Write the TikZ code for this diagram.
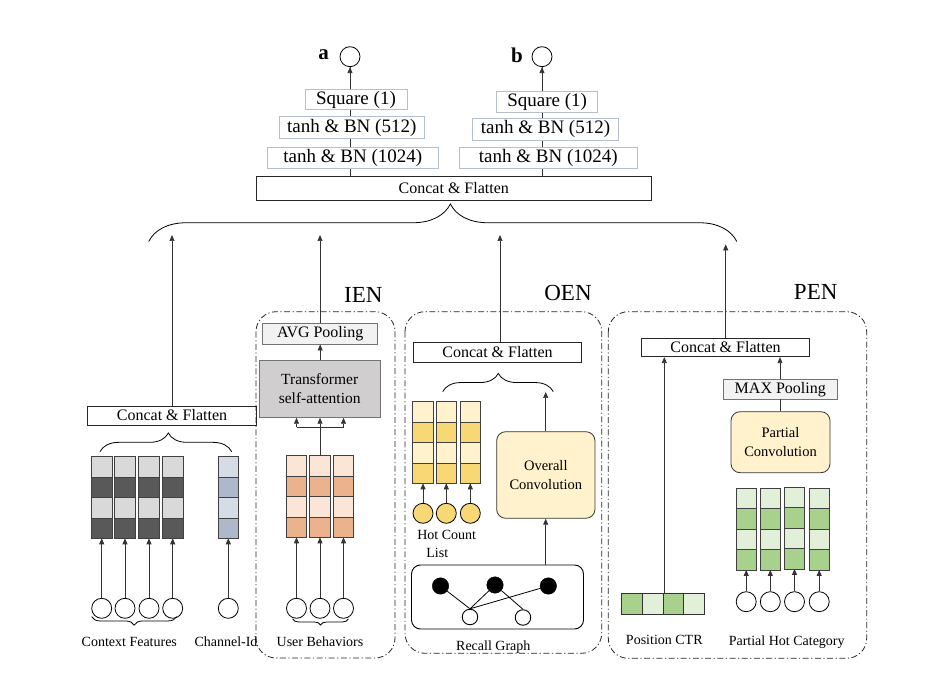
\documentclass[tikz,border=0pt]{standalone}
\usepackage{fontspec}
\setmainfont{Liberation Serif}
\usetikzlibrary{arrows.meta,decorations.pathreplacing,calc}
\definecolor{topbd}{HTML}{B4BFD0}
\definecolor{gl}{HTML}{D9D9D9}
\definecolor{gd}{HTML}{595959}
\definecolor{bl}{HTML}{D6DCE5}
\definecolor{bd}{HTML}{ADB9CA}
\definecolor{ol}{HTML}{FBE5D6}
\definecolor{od}{HTML}{EBB38D}
\definecolor{yl}{HTML}{FFF2CC}
\definecolor{yd}{HTML}{F8D775}
\definecolor{grl}{HTML}{E2F0D9}
\definecolor{grd}{HTML}{A9D18E}
\definecolor{poolf}{HTML}{F2F2F2}
\definecolor{transf}{HTML}{D0CECE}
\newcommand\featcol[5]{%
  \foreach \k in {0,1,2,3}{%
    \pgfmathsetmacro\yy{#3+\k*20.4}%
    \ifodd\k\relax\def\cc{#5}\else\def\cc{#4}\fi
    \filldraw[fill=\cc, draw=black!75, line width=0.6pt] (#2-10.25,\yy) rectangle (#2+10.25,\yy+20.4);
  }%
  \node[inner sep=0pt, outer sep=0pt, minimum width=20.5pt, minimum height=81.6pt] (#1) at (#2,#3+40.8) {};
}
\begin{document}
\begin{tikzpicture}[x=1pt,y=-1pt,
  arr/.style={-{Triangle[length=6pt,width=5pt]}, line width=0.7pt, draw=black!80},
  ln/.style={line width=0.7pt, draw=black!80},
  topbox/.style={draw=topbd, line width=1pt, fill=white, inner sep=0pt, font=\fontsize{19}{21}\selectfont},
  cfbox/.style={draw=black!85, line width=0.7pt, fill=white, inner sep=0pt, font=\fontsize{16}{18}\selectfont},
  poolbox/.style={draw=black!55, line width=0.8pt, fill=poolf, inner sep=0pt, font=\fontsize{16}{18}\selectfont},
  convbox/.style={draw=black!80, line width=0.8pt, fill=yl, rounded corners=9pt, inner sep=0pt, align=center, font=\fontsize{14.5}{18.5}\selectfont},
  inc/.style={circle, draw=black, line width=0.8pt, fill=white, minimum size=20pt, inner sep=0pt},
  lbl/.style={font=\fontsize{14}{16}\selectfont, inner sep=0pt},
  big/.style={font=\fontsize{23}{25}\selectfont, inner sep=0pt},
  region/.style={line width=0.8pt, draw=black!85, rounded corners=20pt, dash pattern=on 6pt off 2.5pt on 1.2pt off 2.5pt},
  brc/.style={decorate, line width=0.8pt, draw=black},
  bdot/.style={circle, fill=black, draw=black, minimum size=16.5pt, inner sep=0pt},
  wdot/.style={circle, fill=white, draw=black, line width=0.9pt, minimum size=15.5pt, inner sep=0pt}
]
\useasboundingbox (0,0) rectangle (938,700);

% ---------- top ----------
\node[inc] (ca) at (350,56.7) {};
\node[inc] (cb) at (542,56.7) {};
\node[font=\fontsize{21}{23}\selectfont\bfseries, inner sep=0pt] (la) at (323.5,55) {a};
\node[font=\fontsize{21}{23}\selectfont\bfseries, inner sep=0pt] (lb) at (517,55) {b};
\node[cfbox, minimum width=395.7pt, minimum height=23.3pt] (cft) at (453.8,188.3) {Concat \& Flatten};
\draw[ln] (cft.north -| ca) -- (ca.south);
\draw[ln] (cft.north -| cb) -- (cb.south);
\node[topbox, minimum width=102pt, minimum height=20pt] (sqa) at (356,100) {Square (1)};
\node[topbox, minimum width=144.7pt, minimum height=22.3pt] (t5a) at (351.7,127.8) {tanh \& BN (512)};
\node[topbox, minimum width=171pt, minimum height=21pt] (t1a) at (352.8,157.8) {tanh \& BN (1024)};
\node[topbox, minimum width=101pt, minimum height=20.6pt] (sqb) at (547.2,102) {Square (1)};
\node[topbox, minimum width=145.6pt, minimum height=21.7pt] (t5b) at (545.5,129.2) {tanh \& BN (512)};
\node[topbox, minimum width=178pt, minimum height=21pt] (t1b) at (548.3,157.8) {tanh \& BN (1024)};
\draw[arr] (sqa.north -| ca) -- (ca.south);
\draw[arr] (sqb.north -| cb) -- (cb.south);

% big brace
\draw[brc, decoration={brace, amplitude=37.5pt, aspect=0.513}] (148.7,241.5) -- (736.8,241.5);
\coordinate (e1) at (172,235);
\coordinate (e2) at (320,235);
\coordinate (e3) at (500,235);
\coordinate (e4) at (725.7,244.3);

% ---------- left (context) ----------
\node[cfbox, minimum width=169.4pt, minimum height=19pt] (cfl) at (172,415.5) {Concat \& Flatten};
\draw[arr] (cfl.north) -- (e1);
\draw[brc, decoration={brace, amplitude=18.7pt, aspect=0.519}] (100,451.7) -- (231.7,451.7);
\featcol{f1}{101.7}{456.7}{gl}{gd}
\featcol{f2}{125}{456.7}{gl}{gd}
\featcol{f3}{149}{456.7}{gl}{gd}
\featcol{f4}{172.7}{456.7}{gl}{gd}
\featcol{f5}{228.3}{456.7}{bl}{bd}
\foreach \i/\x in {1/101.7,2/125,3/149,4/172.7,5/228.3}{
  \node[inc] (fc\i) at (\x,608.3) {};
  \draw[arr] (fc\i) -- (f\i);
}
\draw[brc, decoration={brace, amplitude=8.5pt, mirror}] (91.7,616.7) -- (176.7,616.7);
\node[lbl] (ctxl) at (129.3,641.7) {Context Features};
\node[lbl] (chl) at (226,641.7) {Channel-Id};

% ---------- IEN ----------
\draw[region] (256,311.7) rectangle (395,658);
\node[big] (ien) at (363.3,295) {IEN};
\node[poolbox, minimum width=115pt, minimum height=20.7pt] (avg) at (320.2,333.7) {AVG Pooling};
\draw[arr] (avg.north -| e2) -- (e2);
\node[draw=black!55, line width=0.8pt, fill=transf, minimum width=120.7pt, minimum height=57.3pt, inner sep=0pt, align=center, font=\fontsize{15.5}{19.5}\selectfont] (tr) at (319.7,388.7) {Transformer\\self-attention};
\draw[arr] (tr.north -| avg) -- (avg.south);
\featcol{u1}{296.5}{455.7}{ol}{od}
\featcol{u2}{320}{455.7}{ol}{od}
\featcol{u3}{343.5}{455.7}{ol}{od}
\coordinate (br) at (320,427.3);
\draw[ln] (u2.north) -- (br);
\draw[ln] (br -| u1) -- (br -| u3);
\draw[arr] (br -| u1) -- (tr.south -| u1);
\draw[arr] (br) -- (tr.south -| u2);
\draw[arr] (br -| u3) -- (tr.south -| u3);
\foreach \i/\x in {1/296.5,2/320,3/343.5}{
  \node[inc] (uc\i) at (\x,608.3) {};
  \draw[arr] (uc\i) -- (u\i);
}
\draw[brc, decoration={brace, amplitude=6pt, mirror}] (292.7,619) -- (348.3,619);
\node[lbl] (ubl) at (320,641.7) {User Behaviors};

% ---------- OEN ----------
\draw[region] (405,311.7) rectangle (601.7,653.3);
\node[big] (oen) at (568,293) {OEN};
\node[cfbox, minimum width=168.4pt, minimum height=19.6pt] (cfo) at (497.5,352.5) {Concat \& Flatten};
\draw[arr] (cfo.north -| e3) -- (e3);
\draw[brc, decoration={brace, amplitude=18.3pt, aspect=0.503}] (442.7,391.7) -- (553.3,391.7);
\featcol{h1}{423}{401.7}{yl}{yd}
\featcol{h2}{446.3}{401.7}{yl}{yd}
\featcol{h3}{470.3}{401.7}{yl}{yd}
\foreach \i/\x in {1/423,2/446.3,3/470.3}{
  \node[inc, fill=yd] (hc\i) at (\x,513.3) {};
  \draw[arr] (hc\i) -- (h\i);
}
\node[lbl] (hcl) at (446.7,535) {Hot Count};
\node[lbl] (hll) at (437.3,553) {List};
\node[convbox, minimum width=98.3pt, minimum height=86.6pt] (oc) at (545.8,475) {Overall\\Convolution};
\coordinate (e5) at (545.7,392);
\draw[arr] (oc.north -| e5) -- (e5);
\node[draw=black, line width=0.9pt, fill=white, rounded corners=9pt, minimum width=172pt, minimum height=64pt, inner sep=0pt] (rg) at (497.5,597) {};
\draw[arr] (rg.north -| e5) -- (oc.south -| e5);
\node[bdot] (b1) at (440.5,586) {};
\node[bdot] (b2) at (495,585) {};
\node[bdot] (b3) at (548.3,586) {};
\node[wdot] (w1) at (470,617) {};
\node[wdot] (w2) at (523,617.5) {};
\draw[line width=0.8pt] (b1) -- (w1.north) (b2) -- (w1.north) (b3) -- (w1.north) (b2) -- (w2.north);
\node[lbl] (rgl) at (493.3,646.7) {Recall Graph};

% ---------- PEN ----------
\draw[region] (608.3,311.7) rectangle (866.7,658.3);
\node[big] (pen) at (815.7,291.7) {PEN};
\node[cfbox, minimum width=167.6pt, minimum height=18.5pt] (cfp) at (725.5,347.5) {Concat \& Flatten};
\draw[arr] (cfp.north -| e4) -- (e4);
\node[poolbox, minimum width=114pt, minimum height=19.7pt] (mx) at (780.3,389.2) {MAX Pooling};
\draw[arr] (mx.north -| 780,0) -- (cfp.south -| 780,0);
\node[convbox, minimum width=99pt, minimum height=61pt] (pc) at (780.5,442.2) {Partial\\Convolution};
\draw[ln] (pc.north -| 780,0) -- (mx.south -| 780,0);
\featcol{p1}{746.2}{488.3}{grl}{grd}
\featcol{p2}{770.3}{488.3}{grl}{grd}
\featcol{p3}{794.5}{487.3}{grl}{grd}
\featcol{p4}{819.2}{488.3}{grl}{grd}
\foreach \i/\x in {1/746.2,2/770.3,3/794.5,4/819.2}{
  \node[inc] (pcc\i) at (\x,601.7) {};
  \draw[arr] (pcc\i) -- (p\i);
}
\foreach \k/\c in {0/grd,1/grl,2/grd,3/grl}{
  \filldraw[fill=\c, draw=black!80, line width=0.7pt] (621.7+\k*20.65,593.3) rectangle ++(20.65,21);
}
\node[inner sep=0pt, outer sep=0pt, minimum width=82.6pt, minimum height=21pt] (ctr) at (663,603.8) {};
\draw[arr] (ctr.north -| 664.3,0) -- (cfp.south -| 664.3,0);
\node[lbl] (pctl) at (664.3,640) {Position CTR};
\node[lbl] (phcl) at (786.7,641.7) {Partial Hot Category};
\end{tikzpicture}
\end{document}
